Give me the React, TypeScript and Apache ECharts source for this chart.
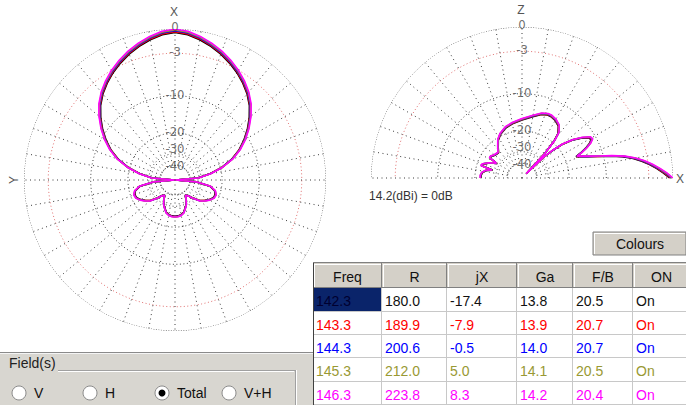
import React, { useEffect, useRef } from "react";
import * as echarts from "echarts";

// ---------- data ----------
const freqs = ["142.3", "143.3", "144.3", "145.3", "146.3"];
const rVals = ["180.0", "189.9", "200.6", "212.0", "223.8"];
const jxVals = ["-17.4", "-7.9", "-0.5", "5.0", "8.3"];
const gaVals = [13.8, 13.9, 14.0, 14.1, 14.2];
const fbVals = ["20.5", "20.7", "20.7", "20.5", "20.4"];
const onVals = ["On", "On", "On", "On", "On"];
const headers = ["Freq", "R", "jX", "Ga", "F/B", "ON"];
const seriesColors = ["#000000", "#ff0000", "#0000ff", "#999933", "#ff00ff"];

const ringDb = [0, -3, -10, -20, -30, -40];
const ringLabels = ["0", "-3", "-10", "-20", "-30", "-40"];
const fieldOptions = ["V", "H", "Total", "V+H"];
const selectedField = "Total";

// azimuth (horizontal) pattern, degrees from front (X), symmetric
const azAngles = [0, 5, 10, 15, 20, 25, 30, 35, 40, 45, 50, 55, 60, 65, 70, 75, 80, 85, 90,
  95, 100, 105, 110, 115, 120, 125, 130, 135, 140, 145, 150, 155, 160, 165, 170, 175, 180];
const azDb = [0, -0.2, -0.6, -1.1, -1.65, -2.3, -3.0, -3.8, -4.7, -5.8, -7.2, -8.8, -10.6, -12.7, -15.4, -19.2, -24.5, -32, -99,
  -33, -24.5, -22, -21.2, -21.5, -22.7, -24.3, -26.3, -30, -34, -36, -33, -29.5, -27.5, -25.5, -24.6, -24.2, -24.1];

// elevation (vertical) pattern, degrees above front horizon
const elAngles = [0, 2, 4, 6, 8, 10, 12, 14, 16, 18, 20, 21.5, 23, 25, 27, 29, 31, 34, 37, 40, 42, 44,
  45.5, 47, 49, 51, 55, 60, 65, 68, 73, 80, 90, 100, 108, 116, 122, 128, 133, 140, 145, 148, 150, 155,
  160, 163, 165, 168, 172, 176, 180];
const elDb = [0, -0.7, -1.5, -2.4, -3.4, -4.6, -6.2, -8.4, -10.9, -13.0, -14.7, -16, -14.5, -12.8, -11.5, -10.7, -10.9, -12.5, -14.7, -18, -22, -28,
  -55, -26, -19, -16.2, -14.5, -13.7, -13.3, -13.3, -13.7, -14.8, -16.0, -16.9, -17.7, -19, -20.5, -23, -25, -24.5, -23.5, -23.5, -28, -24.5,
  -22, -21.5, -27, -24, -22.5, -22, -22];

// ---------- helpers ----------
// ARRL log scale: 0.89 per 2 dB
const arrl = (db: number) => Math.pow(0.89, -db / 2);

const FONT = '"Liberation Sans", Arial, sans-serif';
const NARROW = '"Liberation Sans Narrow", "DejaVu Sans Condensed", "Liberation Sans", sans-serif';

const POLARS = [
  { center: [175, 180], radius: 151 },
  { center: [522, 178], radius: 151 },
];
const labelOffsets = [[0, -3], [0, -2], [0, -1], [0, -1], [0, -5], [0, 0]];

function buildSeries() {
  const series: any[] = [];
  const grid = [
    { idx: 0, maxA: 360, spokeMax: 350, topAngle: 0 },
    { idx: 1, maxA: 180, spokeMax: 180, topAngle: 90 },
  ];
  for (const g of grid) {
    ringDb.forEach((d) => {
      const pts: number[][] = [];
      for (let a = 0; a <= g.maxA; a += 2) pts.push([arrl(d), a]);
      series.push({
        type: "line", coordinateSystem: "polar", polarIndex: g.idx, data: pts,
        symbol: "none", silent: true, z: 1,
        lineStyle: { color: d === -3 ? "#e07070" : "#404040", width: 1, type: d === 0 ? [1, 1.5] : [1, 2.5] },
      });
    });
    for (let a = 0; a <= g.spokeMax; a += 10) {
      const inner = a % 90 === 0 ? 0 : arrl(-40);
      series.push({
        type: "line", coordinateSystem: "polar", polarIndex: g.idx, data: [[inner, a], [1, a]],
        symbol: "none", silent: true, z: 1,
        lineStyle: { color: "#3a3a3a", width: 1, type: [1, 3.5] },
      });
    }
    series.push({
      type: "scatter", coordinateSystem: "polar", polarIndex: g.idx, symbolSize: 1, silent: true, z: 5,
      itemStyle: { color: "rgba(0,0,0,0)" },
      data: ringDb.map((d, i) => ({
        value: [arrl(d), g.topAngle],
        label: { formatter: ringLabels[i], offset: labelOffsets[i] },
      })),
      label: { show: true, position: "inside", color: "#4a4a4a", fontSize: 13, fontFamily: NARROW, lineHeight: 10 },
    });
  }

  const ref = Math.max(...gaVals);
  const fullAz: number[][] = [];
  azAngles.forEach((a, i) => fullAz.push([a, azDb[i]]));
  for (let i = azAngles.length - 2; i >= 0; i--) fullAz.push([360 - azAngles[i], azDb[i]]);

  gaVals.forEach((gv, s) => {
    const off = gv - ref;
    series.push({
      type: "line", coordinateSystem: "polar", polarIndex: 0, symbol: "none", silent: true, z: 3,
      data: fullAz.map(([a, d]) => [arrl(d + off), a]),
      lineStyle: { color: seriesColors[s], width: 1.6 },
    });
    series.push({
      type: "line", coordinateSystem: "polar", polarIndex: 1, symbol: "none", silent: true, z: 3,
      data: elAngles.map((a, i) => [arrl(elDb[i] + off), a]),
      lineStyle: { color: seriesColors[s], width: 1.6 },
    });
  });
  return series;
}

function txt(text: string, x: number, y: number, opts: any = {}) {
  return {
    type: "text", x, y, z: 20, rotation: opts.rotation || 0,
    style: {
      text, fill: opts.fill || "#000", font: opts.font || `14px ${FONT}`,
      textAlign: opts.align || "left", textVerticalAlign: "middle",
    },
  };
}
function ln(x1: number, y1: number, x2: number, y2: number, stroke: string) {
  return { type: "line", z: 15, shape: { x1, y1, x2, y2 }, style: { stroke, lineWidth: 1 } };
}

function buildGraphic() {
  const els: any[] = [];
  const ref = Math.max(...gaVals);
  // axis names
  els.push(txt("X", 174, 12, { align: "center", fill: "#555", font: `12px ${FONT}` }));
  els.push(txt("Y", 14, 180, { align: "center", fill: "#555", font: `12px ${FONT}`, rotation: Math.PI / 2 }));
  els.push(txt("Z", 521, 10, { align: "center", fill: "#555", font: `12px ${FONT}` }));
  els.push(txt("X", 680, 179, { align: "center", fill: "#555", font: `12px ${FONT}` }));
  els.push(txt(`${ref.toFixed(1)}(dBi) = 0dB`, 369, 196, { fill: "#333", font: `12px ${FONT}` }));

  // bottom-left panel
  els.push({ type: "rect", z: 12, shape: { x: 0, y: 352, width: 313, height: 53 }, style: { fill: "#d8d6d0" } });
  els.push(ln(0, 352.5, 313, 352.5, "#8a8a8a"));
  els.push(ln(0, 353.5, 313, 353.5, "#f4f4f4"));
  els.push(txt("Field(s)", 9, 363, { fill: "#222" }));
  els.push(ln(58, 370.5, 295, 370.5, "#a0a0a0"));
  els.push(ln(58, 371.5, 294, 371.5, "#ffffff"));
  els.push(ln(295.5, 370, 295.5, 405, "#a0a0a0"));
  els.push(ln(296.5, 370, 296.5, 405, "#ffffff"));
  const radioX = [19, 90, 162, 229];
  fieldOptions.forEach((f, i) => {
    els.push({ type: "circle", z: 16, shape: { cx: radioX[i], cy: 393, r: 7 }, style: { fill: "#ffffff", stroke: "#8a8a8a", lineWidth: 1 } });
    if (f === selectedField) els.push({ type: "circle", z: 17, shape: { cx: radioX[i], cy: 393, r: 3.5 }, style: { fill: "#000" } });
    els.push(txt(f, radioX[i] + 15, 393, { fill: "#111" }));
  });

  // Colours button
  els.push({ type: "rect", z: 12, shape: { x: 593, y: 232, width: 93, height: 23 }, style: { fill: "#d4d0c8", stroke: "#808080", lineWidth: 1 } });
  els.push(ln(594, 233.5, 685, 233.5, "#ffffff"));
  els.push(ln(594.5, 233, 594.5, 254, "#ffffff"));
  els.push(txt("Colours", 640, 244, { align: "center", fill: "#111" }));

  // table
  const colX = [313, 382, 447, 517, 573, 633, 690];
  const rowY = [288, 312, 335, 358, 382, 405];
  const headTop = 263;
  headers.forEach((h, c) => {
    const x = colX[c], w = colX[c + 1] - colX[c];
    els.push({ type: "rect", z: 12, shape: { x, y: headTop, width: w, height: rowY[0] - headTop }, style: { fill: "#d4d0c8" } });
    els.push(ln(x + 1, headTop + 1.5, x + w - 1, headTop + 1.5, "#ffffff"));
    els.push(ln(x + 1.5, headTop + 1, x + 1.5, rowY[0] - 1, "#ffffff"));
    els.push(ln(x + w - 0.5, headTop, x + w - 0.5, rowY[0], "#808080"));
    els.push(ln(x, rowY[0] - 0.5, x + w, rowY[0] - 0.5, "#808080"));
    els.push(txt(h, x + w / 2, (headTop + rowY[0]) / 2 + 1, { align: "center", fill: "#111" }));
  });
  const cols = [freqs, rVals, jxVals, gaVals.map((g) => g.toFixed(1)), fbVals, onVals];
  for (let r = 0; r < freqs.length; r++) {
    const y0 = rowY[r], y1 = rowY[r + 1];
    for (let c = 0; c < headers.length; c++) {
      const x = colX[c], w = colX[c + 1] - colX[c];
      const sel = r === 0 && c === 0;
      els.push({ type: "rect", z: 12, shape: { x, y: y0, width: w, height: y1 - y0 }, style: { fill: sel ? "#0a246a" : "#ffffff" } });
      els.push(ln(x + w - 0.5, y0, x + w - 0.5, y1, "#c8c8c8"));
      els.push(ln(x, y1 - 0.5, x + w, y1 - 0.5, "#c8c8c8"));
      const color = r === 0 ? (sel ? "#000030" : "#111") : seriesColors[r];
      els.push(txt(String(cols[c][r]), x + 3, (y0 + y1) / 2 + 1, { fill: color }));
    }
  }
  els.push(ln(313.5, headTop, 313.5, 405, "#404040"));
  els.push(ln(313, headTop - 0.5, 690, headTop - 0.5, "#808080"));
  return els;
}

function buildOption(): any {
  return {
    animation: false,
    backgroundColor: "#ffffff",
    polar: POLARS.map((p) => ({ center: p.center, radius: p.radius })),
    angleAxis: [
      { polarIndex: 0, type: "value", min: 0, max: 360, startAngle: 90, clockwise: true, show: false },
      { polarIndex: 1, type: "value", min: 0, max: 360, startAngle: 0, clockwise: false, show: false },
    ],
    radiusAxis: [
      { polarIndex: 0, type: "value", min: 0, max: 1, show: false },
      { polarIndex: 1, type: "value", min: 0, max: 1, show: false },
    ],
    series: buildSeries(),
    graphic: { elements: buildGraphic() },
  };
}

export default function App() {
  const ref = useRef<HTMLDivElement>(null);
  useEffect(() => {
    const chart = echarts.init(ref.current!, null, { renderer: "svg" });
    chart.setOption(buildOption());
    return () => chart.dispose();
  }, []);
  return (
    <div
      ref={ref}
      style={{ position: "fixed", left: 0, top: 0, width: 686, height: 405, background: "#fff" }}
    />
  );
}
